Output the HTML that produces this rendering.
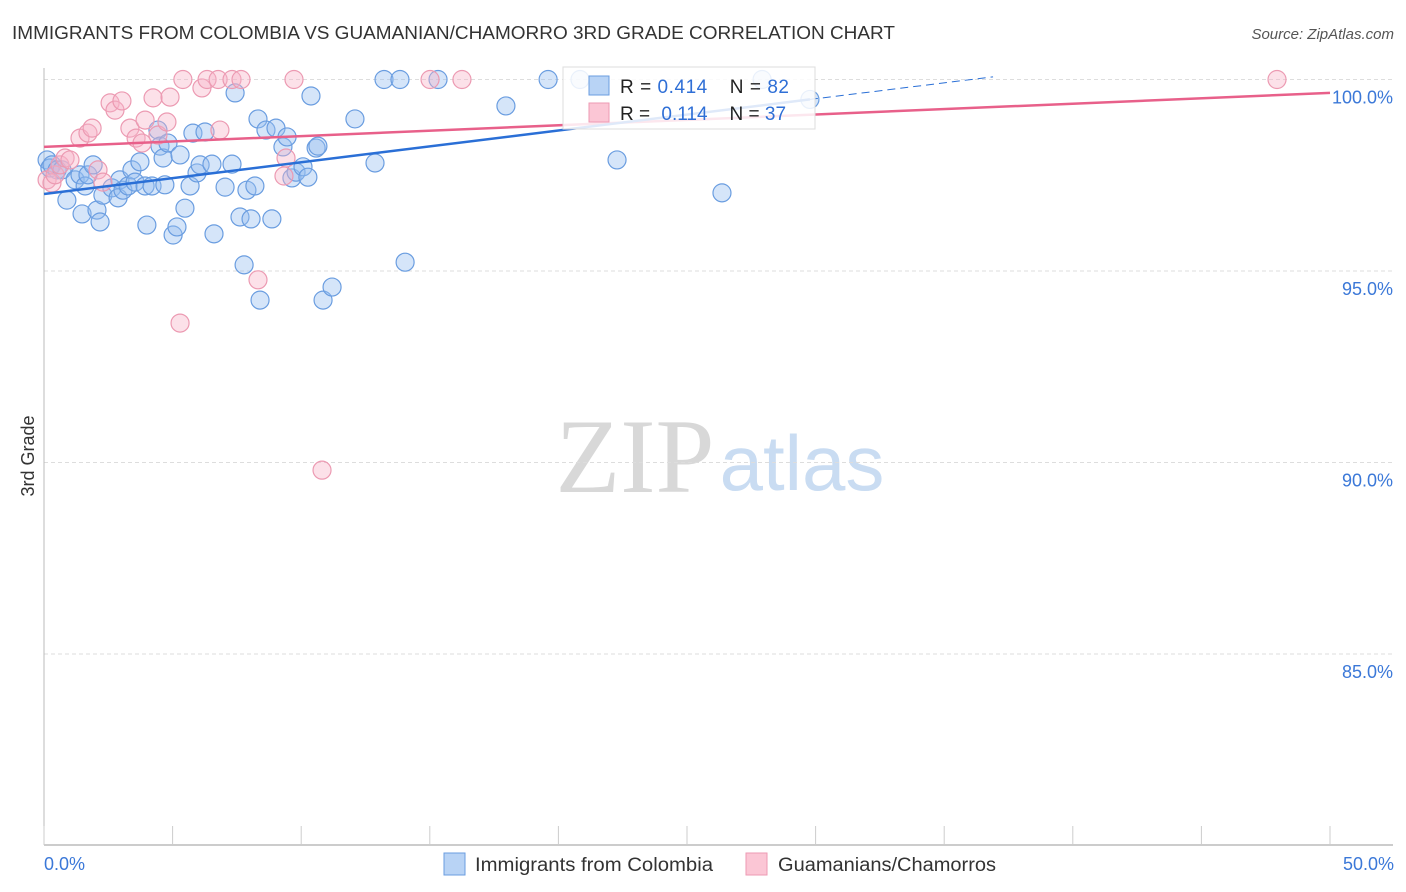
<!DOCTYPE html>
<html><head><meta charset="utf-8"><style>
body{margin:0;background:#fff;font-family:"Liberation Sans",sans-serif;}
#wrap{position:relative;width:1406px;height:892px;overflow:hidden;}
</style></head><body>
<div id="wrap">
<svg id="svg" width="1406" height="892" xmlns="http://www.w3.org/2000/svg">
<text x="12" y="39" font-size="18" fill="#333" textLength="883" lengthAdjust="spacingAndGlyphs">IMMIGRANTS FROM COLOMBIA VS GUAMANIAN/CHAMORRO 3RD GRADE CORRELATION CHART</text>
<text x="1394" y="39" font-size="15" fill="#555" font-style="italic" text-anchor="end">Source: ZipAtlas.com</text>
<text x="34" y="456" font-size="18" fill="#333" transform="rotate(-90 34 456)" text-anchor="middle">3rd Grade</text>
<g>
<text x="635" y="492" font-size="106" fill="#d8d8d8" font-family="Liberation Serif,serif" text-anchor="middle">ZIP</text>
<text x="802" y="490" font-size="78" fill="#c9dcf2" text-anchor="middle">atlas</text>
</g>
<g id="grid"></g>
<g id="axes"></g>
<g id="pts"></g>
<g id="lines"></g>
<g>
<rect x="563" y="67" width="252" height="62" fill="#fff" fill-opacity="0.85" stroke="#ddd"/>
<rect x="589" y="76" width="20" height="19" fill="#b8d3f5" stroke="#6a9de0"/>
<rect x="589" y="103" width="20" height="19" fill="#fbc6d5" stroke="#ee9ab3"/>
<text x="620" y="93" font-size="19" fill="#222" textLength="169" lengthAdjust="spacing">R = <tspan fill="#2f6fd6">0.414</tspan><tspan dx="22">N = </tspan><tspan fill="#2f6fd6">82</tspan></text>
<text x="620" y="120" font-size="19" fill="#222">R = <tspan dx="6" fill="#2f6fd6">0.114</tspan><tspan dx="22">N = </tspan><tspan fill="#2f6fd6">37</tspan></text>
</g>
<g>
<rect x="444" y="853" width="21" height="22" fill="#b8d3f5" stroke="#6a9de0"/>
<text x="475" y="871" font-size="19" fill="#333" textLength="238" lengthAdjust="spacingAndGlyphs">Immigrants from Colombia</text>
<rect x="746" y="853" width="21" height="22" fill="#fbc6d5" stroke="#ee9ab3"/>
<text x="778" y="871" font-size="19" fill="#333" textLength="218" lengthAdjust="spacingAndGlyphs">Guamanians/Chamorros</text>
</g>
</svg>
</div>
<script>
const blueX=[0.12,0.23,0.31,0.51,0.70,0.89,1.21,1.40,1.48,1.60,1.71,1.91,2.06,2.18,2.29,2.64,2.88,2.95,3.07,3.27,3.42,3.54,3.73,3.93,4.00,4.20,4.43,4.51,4.63,4.70,4.82,5.02,5.17,5.29,5.48,5.68,5.79,5.95,6.07,6.26,6.53,6.61,7.04,7.31,7.43,7.62,7.78,7.89,8.05,8.20,8.32,8.40,8.63,8.86,9.02,9.29,9.45,9.64,9.80,10.07,10.26,10.38,10.58,10.65,10.85,11.20,12.09,12.87,13.22,13.84,14.04,15.32,17.96,19.60,20.84,22.28,26.36,27.92,29.78];
const blueY=[97.90,97.69,97.77,97.64,97.64,96.85,97.38,97.51,96.49,97.22,97.51,97.77,96.59,96.28,96.98,97.17,96.91,97.38,97.11,97.22,97.64,97.32,97.85,97.22,96.20,97.22,98.68,98.26,97.95,97.25,98.34,95.94,96.15,98.03,96.64,97.22,98.60,97.56,97.77,98.63,97.79,95.97,97.19,97.79,99.65,96.41,95.16,97.11,96.36,97.22,98.97,94.24,98.68,96.36,98.73,98.24,98.50,97.43,97.58,97.72,97.45,99.57,98.21,98.26,94.24,94.58,98.97,97.82,100,100,95.23,100,99.31,100,100,97.90,97.04,100,99.48];
const pinkX=[0.12,0.31,0.43,0.62,0.82,1.01,1.40,1.71,1.87,2.10,2.29,2.57,2.76,3.03,3.34,3.58,3.81,3.93,4.24,4.43,4.78,4.90,5.29,5.40,6.14,6.34,6.77,6.84,7.31,7.66,8.32,9.33,9.41,9.72,10.81,15.01,16.25,47.94];
const pinkY=[97.38,97.30,97.51,97.77,97.95,97.90,98.47,98.60,98.73,97.64,97.32,99.39,99.20,99.44,98.73,98.47,98.34,98.94,99.52,98.55,98.89,99.54,93.64,100,99.78,100,100,98.68,100,100,94.77,97.48,97.95,100,89.80,100,100,100];
const blueTrend=[[0,97.01],[29.78,99.48]];
const blueDash=[[29.78,99.48],[36.9,100.07]];
const pinkTrend=[[0,98.24],[50,99.65]];
const yTicks=[100,95,90,85];
const yTickLabels=["100.0%","95.0%","90.0%","85.0%"];
const xTicks=[0,5,10,15,20,25,30,35,40,45,50];

const NS="http://www.w3.org/2000/svg";
const sx=v=>44+v*25.72;
const sy=v=>79.5+(100-v)*38.3;
function mk(tag,attrs,parent){const e=document.createElementNS(NS,tag);for(const k in attrs)e.setAttribute(k,attrs[k]);parent.appendChild(e);return e;}
const grid=document.getElementById('grid'),axes=document.getElementById('axes'),pts=document.getElementById('pts'),lines=document.getElementById('lines');
yTicks.forEach((t,i)=>{
  const l=mk('line',{x1:44,x2:1393,y1:sy(t),y2:sy(t),stroke:'#ddd','stroke-dasharray':'4,3'},grid);
  
  
  const tx=mk('text',{x:1393,y:sy(t)+24,'font-size':18,fill:'#3b78d8','text-anchor':'end'},grid);
  tx.textContent=yTickLabels[i];
  
  
});
let a=mk('line',{x1:44,x2:44,y1:68,y2:845,stroke:'#bbb'},axes);


a=mk('line',{x1:44,x2:1393,y1:845,y2:845,stroke:'#bbb','stroke-width':1.5},axes);


xTicks.forEach(t=>{
  const l=mk('line',{x1:sx(t),x2:sx(t),y1:826,y2:845,stroke:'#ccc'},axes);
  
  
});
let xl=mk('text',{x:44,y:870,'font-size':18,fill:'#3b78d8'},axes);xl.textContent='0.0%';


xl=mk('text',{x:1394,y:870,'font-size':18,fill:'#3b78d8','text-anchor':'end'},axes);xl.textContent='50.0%';


blueX.forEach((x,i)=>{
  const c=mk('circle',{cx:sx(x),cy:sy(blueY[i]),r:9,fill:'rgba(150,190,240,0.4)',stroke:'#6a9de0','stroke-width':1.2},pts);
  
  
});
pinkX.forEach((x,i)=>{
  const c=mk('circle',{cx:sx(x),cy:sy(pinkY[i]),r:9,fill:'rgba(248,180,200,0.4)',stroke:'#ec9ab2','stroke-width':1.2},pts);
  
  
});
let t=mk('line',{x1:sx(pinkTrend[0][0]),y1:sy(pinkTrend[0][1]),x2:sx(pinkTrend[1][0]),y2:sy(pinkTrend[1][1]),stroke:'#e8608a','stroke-width':2.5},lines);


t=mk('line',{x1:sx(blueTrend[0][0]),y1:sy(blueTrend[0][1]),x2:sx(blueTrend[1][0]),y2:sy(blueTrend[1][1]),stroke:'#2a6fd6','stroke-width':2.5},lines);


t=mk('line',{x1:sx(blueDash[0][0]),y1:sy(blueDash[0][1]),x2:sx(blueDash[1][0]),y2:sy(blueDash[1][1]),stroke:'#2a6fd6','stroke-width':1,'stroke-dasharray':'8,5'},lines);


</script>
</body></html>
